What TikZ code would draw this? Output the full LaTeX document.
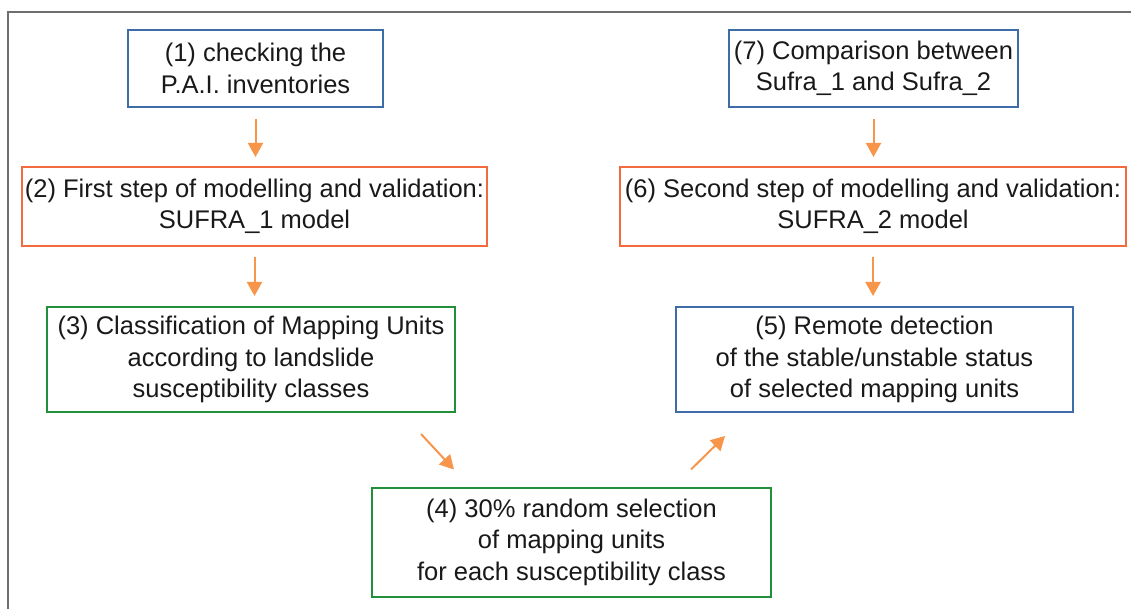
\documentclass[tikz,border=0pt]{standalone}
\usepackage{fontspec}
\setmainfont{Liberation Sans}
\usetikzlibrary{arrows.meta,calc}
\definecolor{bblue}{HTML}{3D6CA6}
\definecolor{bred}{HTML}{F26A3E}
\definecolor{bgreen}{HTML}{22903A}
\definecolor{aorange}{HTML}{F7964A}
\definecolor{fgray}{HTML}{6E6E6E}
\tikzset{
  box/.style={draw, line width=2pt, inner sep=0pt, align=center,
    font=\fontsize{25.5}{31.5}\selectfont, text=black!90},
  bluebox/.style={box, draw=bblue},
  redbox/.style={box, draw=bred},
  greenbox/.style={box, draw=bgreen},
  arr/.style={draw=aorange, line width=2pt, -{Triangle[length=14pt,width=15pt]}},
}
\begin{document}
\begin{tikzpicture}[x=1pt,y=-1pt]
\useasboundingbox (0,0) rectangle (1131,609);
\fill[white] (0,0) rectangle (1131,609);
\draw[fgray, line width=2pt] (8,609) -- (8,12) -- (1131,12);

\node[bluebox, minimum width=255pt, minimum height=77pt] (n1) at (255.5,68.5)
  {(1) checking the\\P.A.I. inventories};
\node[redbox, minimum width=465pt, minimum height=79pt] (n2) at (254.5,206.5)
  {(2) First step of modelling and validation:\\SUFRA\_1 model};
\node[greenbox, minimum width=408pt, minimum height=105pt] (n3) at (251,359.5)
  {(3) Classification of Mapping Units\\according to landslide\\susceptibility classes};
\node[greenbox, minimum width=399pt, minimum height=109pt] (n4) at (571.5,542)
  {(4) 30\% random selection\\of mapping units\\for each susceptibility class};
\node[bluebox, minimum width=397pt, minimum height=105pt] (n5) at (874.5,359.5)
  {(5) Remote detection\\of the stable/unstable status\\of selected mapping units};
\node[redbox, minimum width=506pt, minimum height=79pt] (n6) at (873,206.5)
  {(6) Second step of modelling and validation:\\SUFRA\_2 model};
\node[bluebox, minimum width=289pt, minimum height=77pt] (n7) at (873.5,68.5)
  {(7) Comparison between\\Sufra\_1 and Sufra\_2};

\draw[arr, shorten <=11pt, shorten >=9pt] (n1.south) -- (n1.south |- n2.north);
\draw[arr, shorten <=10pt, shorten >=10pt] (n2.south) -- (n2.south |- n3.north);
\draw[arr, shorten <=11pt, shorten >=9pt] (n7.south) -- (n7.south |- n6.north);
\draw[arr, shorten <=10pt, shorten >=10pt] (n6.south) -- (n6.south |- n5.north);
\draw[arr] ([xshift=-35pt,yshift=-21pt]n3.south east) -- ([xshift=83pt,yshift=17pt]n4.north west);
\draw[arr] ([xshift=-81pt,yshift=17pt]n4.north east) -- ([xshift=50pt,yshift=-23pt]n5.south west);
\end{tikzpicture}
\end{document}
